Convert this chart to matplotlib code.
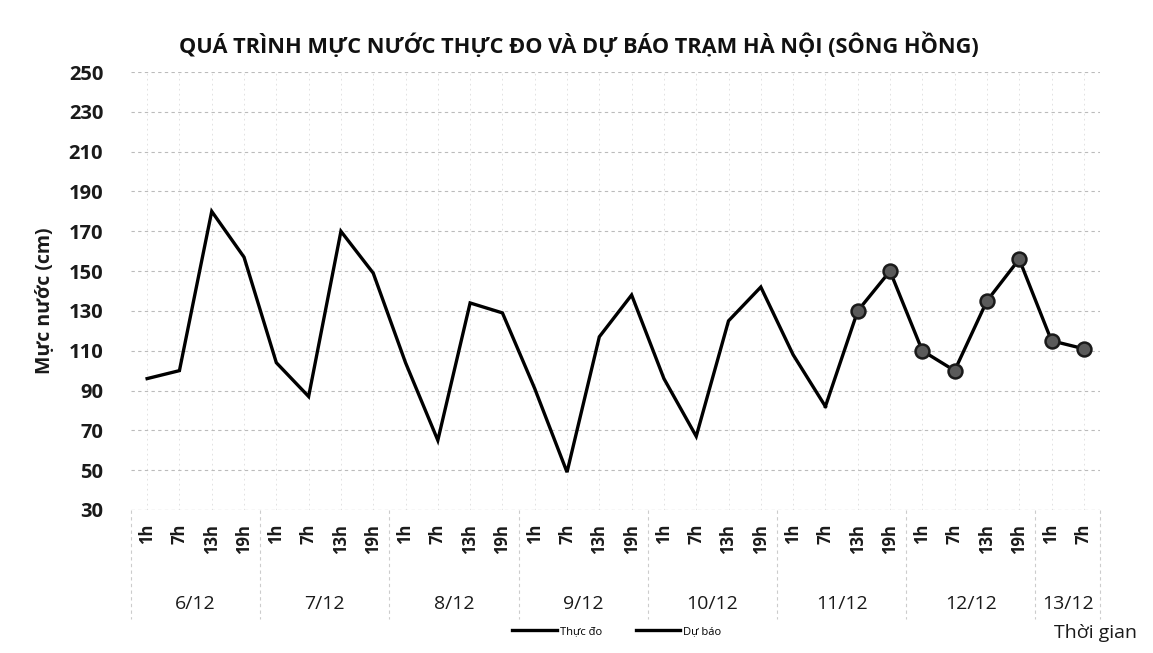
import numpy as np
import matplotlib
matplotlib.use("Agg")
import matplotlib.pyplot as plt
from matplotlib.lines import Line2D

plt.rcParams['font.family'] = ['Open Sans', 'DejaVu Sans']

days  = ["6/12", "7/12", "8/12", "9/12", "10/12", "11/12", "12/12", "13/12"]
hours = ["1h", "7h", "13h", "19h"]
n_per_day = [4, 4, 4, 4, 4, 4, 4, 2]

# observed (Thực đo) up to 11/12 7h, forecast (Dự báo) from 11/12 13h
obs = [96, 100, 180, 157, 104, 87, 170, 149, 104, 65, 134, 129,
       91, 49, 117, 138, 96, 67, 125, 142, 108, 82]
fc  = [130, 150, 110, 100, 135, 156, 115, 111]

hour_labels = []
for n in n_per_day:
    hour_labels += hours[:n]
x = np.arange(len(hour_labels))

fig = plt.figure(figsize=(11.53, 6.53), dpi=100)
ax = fig.add_axes([0.1136, 0.219, 0.8404, 0.6707])

# observed line
ax.plot(x[:len(obs)], obs, color="black", lw=2.4, solid_joinstyle="miter", zorder=3)
# forecast line (joined to last observed point), markers on forecast only
xf = x[len(obs)-1:]
yf = [obs[-1]] + fc
ax.plot(xf, yf, color="black", lw=2.4, marker="o", markersize=10,
        markerfacecolor="#5a5a5a", markeredgecolor="#1a1a1a", markeredgewidth=1.8,
        markevery=list(range(1, len(yf))), zorder=4)

ax.set_ylim(30, 250)
ax.set_yticks(np.arange(30, 251, 20))
ax.set_xlim(-0.5, len(x) - 0.5)
ax.set_xticks(x)
ax.set_xticklabels(hour_labels, rotation=90, fontsize=12, fontweight="bold", color="#1a1a1a")
ax.tick_params(axis="x", length=0, pad=10)
ax.tick_params(axis="y", length=0, pad=20, labelsize=14.5)
for t in ax.get_yticklabels():
    t.set_fontweight("bold")
    t.set_color("#1a1a1a")

ax.grid(axis="y", color="#bbbbbb", lw=0.8, ls=(0, (3, 3)))
ax.grid(axis="x", color="#dddddd", lw=0.6, ls=(0, (2, 4)))
for s in ax.spines.values():
    s.set_visible(False)
ax.axhline(30, color="#bbbbbb", lw=0.8, ls=(0, (3, 3)))

# day groups: separators and labels
bounds = np.concatenate([[0], np.cumsum(n_per_day)]) - 0.5
trans = ax.get_xaxis_transform()
for b in bounds:
    ax.plot([b, b], [0, -0.25], transform=trans, clip_on=False,
            color="#cccccc", lw=0.8, ls=(0, (3, 3)))
for i, d in enumerate(days):
    ax.text((bounds[i] + bounds[i+1]) / 2, -0.215, d, transform=trans,
            ha="center", va="center", fontsize=14, color="#1a1a1a")

fig.text(0.502, 0.93, "QUÁ TRÌNH MỰC NƯỚC THỰC ĐO VÀ DỰ BÁO TRẠM HÀ NỘI (SÔNG HỒNG)",
         ha="center", va="center", fontsize=15.7, fontweight="bold", color="#111111")
fig.text(0.039, 0.54, "Mực nước (cm)", rotation=90, ha="center", va="center",
         fontsize=14, fontweight="bold", color="#1a1a1a")
fig.text(0.95, 0.03, "Thời gian", ha="center", va="center", fontsize=14, color="#1a1a1a")

handles = [Line2D([], [], color="black", lw=2.4), Line2D([], [], color="black", lw=2.4)]
fig.legend(handles, ["Thực đo", "Dự báo"], loc="center", bbox_to_anchor=(0.535, 0.033),
           ncol=2, frameon=False, fontsize=8, handlelength=4, columnspacing=3,
           handletextpad=0.3)

fig.savefig("out.png", dpi=100)
